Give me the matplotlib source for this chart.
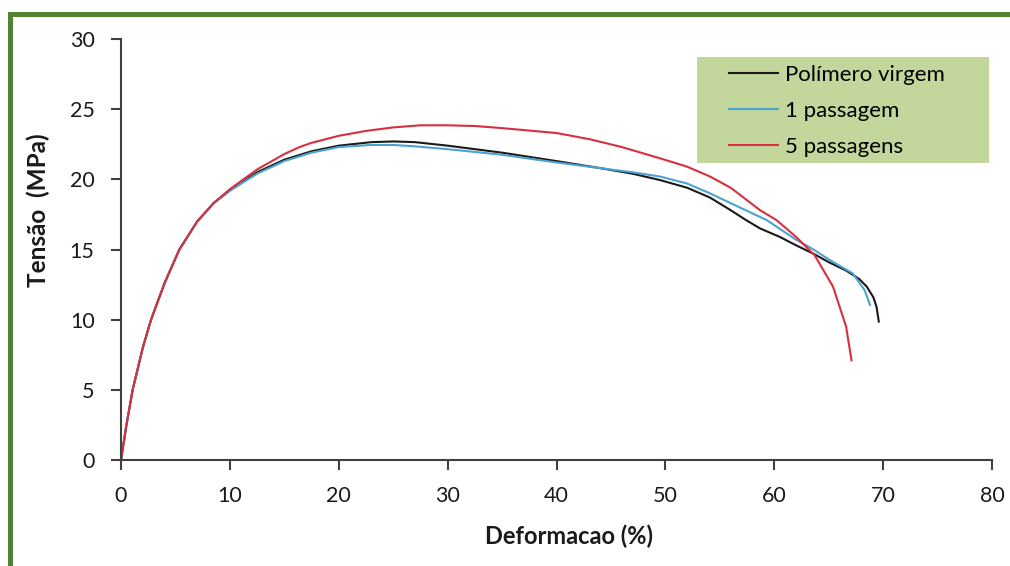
import matplotlib
matplotlib.use("Agg")
import matplotlib.pyplot as plt
from matplotlib.patches import Rectangle

# Data
virgem_x = [0, 0.5, 1.07, 2, 2.76, 4, 5.36, 7, 8.5, 10, 12.5, 15, 17.5, 20, 23, 25, 27, 30, 35, 40,
            44, 47, 49.5, 52, 54.1, 56, 57.4, 58.7, 60.5, 62, 63.6, 65, 66.6, 67.8, 68.5, 69.1, 69.4, 69.6]
virgem_y = [0, 2.5, 5, 8, 10, 12.6, 15, 17, 18.3, 19.2, 20.5, 21.4, 22.0, 22.4, 22.65, 22.7, 22.65, 22.4, 21.9, 21.3,
            20.8, 20.4, 19.95, 19.4, 18.7, 17.8, 17.1, 16.5, 15.9, 15.3, 14.7, 14.1, 13.5, 12.9, 12.35, 11.6, 10.9, 9.86]

p1_x = [0, 0.5, 1.07, 2, 2.76, 4, 5.36, 7, 8.5, 10, 12.5, 15, 17.5, 20, 23, 25, 27, 30, 35, 40,
        44, 47, 49.5, 52, 54.1, 56, 59.3, 62, 63.6, 65.1, 67.2, 68.3, 68.8]
p1_y = [0, 2.5, 5, 8, 10, 12.6, 15, 17, 18.3, 19.2, 20.4, 21.3, 21.9, 22.3, 22.45, 22.45, 22.35, 22.15, 21.75, 21.2,
        20.8, 20.5, 20.2, 19.7, 19.0, 18.3, 17.1, 15.7, 15.0, 14.25, 13.3, 12.1, 11.05]

p5_x = [0, 0.5, 1.07, 2, 2.76, 4, 5.36, 7, 8.5, 10, 12.5, 15, 16.4, 17.5, 20, 22.5, 25, 27.5, 30, 32.5, 35, 40,
        43.1, 46, 49.5, 52, 54.1, 56, 58.7, 60.2, 62, 63.7, 65.4, 66.6, 67.1]
p5_y = [0, 2.5, 5, 8, 10, 12.6, 15, 17, 18.3, 19.3, 20.7, 21.8, 22.3, 22.6, 23.1, 23.45, 23.7, 23.85, 23.85, 23.8, 23.65, 23.3,
        22.85, 22.3, 21.5, 20.9, 20.2, 19.4, 17.8, 17.1, 15.9, 14.6, 12.35, 9.5, 7.1]

series_labels = ["Polímero virgem", "1 passagem", "5 passagens"]
x_ticks = [0, 10, 20, 30, 40, 50, 60, 70, 80]
y_ticks = [0, 5, 10, 15, 20, 25, 30]

plt.rcParams['font.family'] = ['Lato', 'DejaVu Sans']

W, H = 1010, 566
fig = plt.figure(figsize=(W / 100, H / 100), dpi=100)
ax_l, ax_r, ax_t, ax_b = 121, 992, 39, 460
ax = fig.add_axes([ax_l / W, 1 - ax_b / H, (ax_r - ax_l) / W, (ax_b - ax_t) / H])

def ax_coords(px, py):
    return ((px - ax_l) / (ax_r - ax_l), (ax_b - py) / (ax_b - ax_t))

ax.plot(virgem_x, virgem_y, color='#1a1a1a', lw=1.5, label=series_labels[0])
ax.plot(p1_x, p1_y, color='#4aa3d0', lw=1.5, label=series_labels[1])
ax.plot(p5_x, p5_y, color='#d6303f', lw=1.5, label=series_labels[2])

ax.set_xlim(0, 80)
ax.set_ylim(0, 30)
ax.set_xticks(x_ticks)
ax.set_yticks(y_ticks)
for s in ['top', 'right']:
    ax.spines[s].set_visible(False)
for s in ['left', 'bottom']:
    ax.spines[s].set_color('#404040')
    ax.spines[s].set_linewidth(1.5)
ax.tick_params(axis='both', direction='out', length=7, width=1.5, color='#404040',
               labelsize=15.5, labelcolor='#1a1a1a', pad=12)

ax.set_xlabel('Deformacao (%)', fontsize=17, fontweight='bold', color='#1a1a1a')
ax.set_ylabel('Tensão  (MPa)', fontsize=17.5, fontweight='bold', color='#1a1a1a')
ax.xaxis.set_label_coords(*ax_coords(569, 536))
ax.yaxis.set_label_coords(*ax_coords(38, 210))
ax.xaxis.label.set_va('center')
ax.yaxis.label.set_va('center')

# legend background
x0, y0 = ax_coords(697, 163)
x1, y1 = ax_coords(989, 57)
ax.add_patch(Rectangle((x0, y0), x1 - x0, y1 - y0, transform=ax.transAxes,
                       facecolor='#c3d69b', edgecolor='none', zorder=4, clip_on=False))
leg = ax.legend(loc='upper left', bbox_to_anchor=ax_coords(729, 65),
                frameon=False, fontsize=16, handlelength=2.2,
                handletextpad=0.3, labelspacing=0.72, borderpad=0, borderaxespad=0)
leg.set_zorder(5)

# green frame (top and left)
green = '#548235'
fig.patches.append(Rectangle((8 / W, 1 - 17 / H), 1 - 8 / W, 5 / H, transform=fig.transFigure,
                             facecolor=green, edgecolor='none'))
fig.patches.append(Rectangle((8 / W, 0), 5 / W, 1 - 12 / H, transform=fig.transFigure,
                             facecolor=green, edgecolor='none'))

fig.savefig('out.png', dpi=100)
